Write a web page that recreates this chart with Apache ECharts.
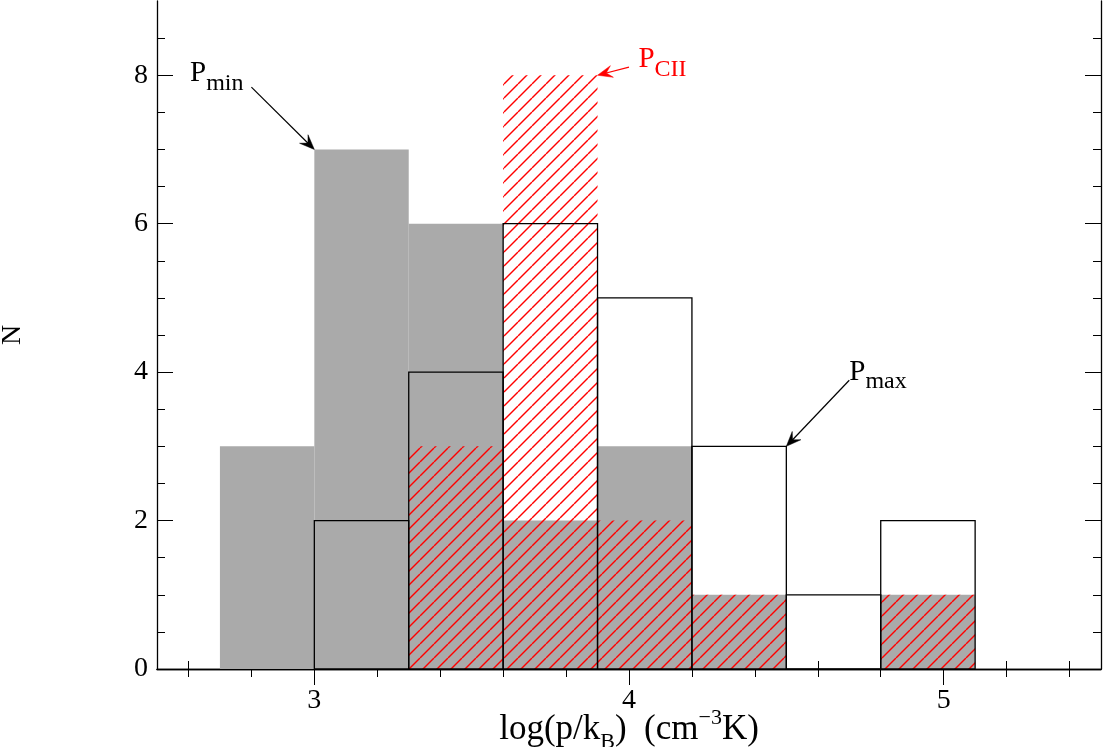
<!DOCTYPE html>
<html><head><meta charset="utf-8">
<script src="https://cdn.jsdelivr.net/npm/echarts@6/dist/echarts.min.js"></script>
<style>html,body{margin:0;padding:0;background:#fff}#c{width:1103px;height:747px}</style>
</head><body><div id="c"></div>
<script>
// ---- data ----
const binLeft = [2.7, 3.0, 3.3, 3.6, 3.9, 4.2, 4.5, 4.8];
const binWidth = 0.3;
const pminCounts = [3, 7, 6, 2, 3, 1, 0, 1];
const pmaxCounts = [0, 2, 4, 6, 5, 3, 1, 2];
const pciiCounts = [0, 0, 3, 8, 2, 1, 0, 1];
const xMajorTicks = [3, 4, 5];
const xMinorTicks = [2.6, 2.8, 3.2, 3.4, 3.6, 3.8, 4.2, 4.4, 4.6, 4.8, 5.2, 5.4];
const yMajorTicks = [0, 2, 4, 6, 8];
const yMinorTicks = [0.5, 1, 1.5, 2.5, 3, 3.5, 4.5, 5, 5.5, 6.5, 7, 7.5, 8.5];
const annMain = ['P', 'P', 'P'];
const annSub = ['min', 'CII', 'max'];
const annColor = ['#000', '#ff0000', '#000'];
const annTextPos = [[2.605, 8.02], [4.03, 8.215], [4.70, 4.0]];
const annTail = [[2.80, 7.84], [4.0, 8.11], [4.70, 3.89]];
const annHead = [[3.0, 7.0], [3.9, 8.0], [4.5, 3.0]];

const FONT = "'Liberation Serif', 'DejaVu Serif', serif";

// hatch pattern
const pc = document.createElement('canvas');
pc.width = 14; pc.height = 14;
const g = pc.getContext('2d');
g.strokeStyle = '#ff0000'; g.lineWidth = 1.4;
for (const k of [-14, 0, 14]) { g.beginPath(); g.moveTo(k, 14); g.lineTo(k + 14, 0); g.stroke(); }
const hatch = { image: pc, repeat: 'repeat' };

function barData(counts) { return binLeft.map((x, i) => [x, x + binWidth, counts[i]]); }

function barRender(kind) {
  return function (params, api) {
    const x0 = api.value(0), x1 = api.value(1), v = api.value(2);
    if (!v) return;
    const p0 = api.coord([x0, v]), p1 = api.coord([x1, 0]);
    const shape = { x: p0[0], y: p0[1], width: p1[0] - p0[0], height: p1[1] - p0[1] };
    let style;
    if (kind === 'gray') style = { fill: '#aaaaaa', stroke: null };
    else if (kind === 'hatch') style = { fill: hatch, stroke: null };
    else style = { fill: 'none', stroke: '#000', lineWidth: 1.3 };
    return { type: 'rect', shape: shape, style: style };
  };
}

const annData = annTail.map((t, i) => [t[0], t[1], annHead[i][0], annHead[i][1], annTextPos[i][0], annTextPos[i][1], i]);

function annRender(params, api) {
  const i = api.value(6);
  const col = annColor[i];
  const t = api.coord([api.value(0), api.value(1)]);
  const h = api.coord([api.value(2), api.value(3)]);
  const tp = api.coord([api.value(4), api.value(5)]);
  const dx = h[0] - t[0], dy = h[1] - t[1];
  const L = Math.hypot(dx, dy), ux = dx / L, uy = dy / L;
  const a = 22 * Math.PI / 180, bl = 16;
  function rot(ang) { return [ux * Math.cos(ang) - uy * Math.sin(ang), ux * Math.sin(ang) + uy * Math.cos(ang)]; }
  const r1 = rot(a), r2 = rot(-a);
  const head = [h, [h[0] - bl * r1[0], h[1] - bl * r1[1]], [h[0] - 9 * ux, h[1] - 9 * uy], [h[0] - bl * r2[0], h[1] - bl * r2[1]]];
  return {
    type: 'group',
    children: [
      { type: 'line', shape: { x1: t[0], y1: t[1], x2: h[0] - 6 * ux, y2: h[1] - 6 * uy }, style: { stroke: col, lineWidth: 1.2 } },
      { type: 'polygon', shape: { points: head }, style: { fill: col, stroke: col, lineWidth: 0.5 } },
      { type: 'text', x: tp[0], y: tp[1], style: {
          text: '{p|' + annMain[i] + '}{s|' + annSub[i] + '}',
          fill: col, align: 'left', verticalAlign: 'middle',
          rich: {
            p: { fontSize: 29, fontFamily: FONT, lineHeight: 44, fill: col, verticalAlign: 'middle' },
            s: { fontSize: 24, fontFamily: FONT, lineHeight: 24, fill: col, verticalAlign: 'bottom' }
          }
        } }
    ]
  };
}

const axLine = { show: true, lineStyle: { color: '#000', width: 1.3 } };
const tickStyle = { color: '#000', width: 1 };

function xAx(grid, pos, major, withLabels) {
  const o = {
    gridIndex: grid, type: 'value', min: 2.5, max: 5.5, position: pos,
    axisLine: major ? axLine : { show: false },
    axisTick: { show: true, inside: true, length: major ? 16 : 8, customValues: major ? xMajorTicks : xMinorTicks, lineStyle: tickStyle },
    axisLabel: withLabels ? { show: true, customValues: xMajorTicks, margin: 18, fontSize: 28, color: '#000', fontFamily: FONT } : { show: false },
    splitLine: { show: false }
  };
  if (withLabels) {
    o.name = '{m|log(p/k}{s|B}{m|)  (cm}{u|\u22123}{m|K)}';
    o.nameLocation = 'middle';
    o.nameGap = 38;
    o.nameMoveOverlap = false;
    o.nameTextStyle = {
      color: '#000', fontFamily: FONT,
      rich: {
        m: { fontSize: 35, fontFamily: FONT, color: '#000', lineHeight: 46, verticalAlign: 'middle' },
        s: { fontSize: 22, fontFamily: FONT, color: '#000', lineHeight: 26, verticalAlign: 'bottom' },
        u: { fontSize: 22, fontFamily: FONT, color: '#000', lineHeight: 18, verticalAlign: 'top' }
      }
    };
  }
  return o;
}
function yAx(grid, pos, major, withLabels) {
  const o = {
    gridIndex: grid, type: 'value', min: 0, max: 9, position: pos,
    axisLine: major ? axLine : { show: false },
    axisTick: { show: true, inside: true, length: major ? 16 : 8, customValues: major ? yMajorTicks : yMinorTicks, lineStyle: tickStyle },
    axisLabel: withLabels ? { show: true, customValues: yMajorTicks, margin: 9, fontSize: 28, color: '#000', fontFamily: FONT } : { show: false },
    splitLine: { show: false }
  };
  if (withLabels) {
    o.name = 'N'; o.nameLocation = 'middle'; o.nameGap = 130;
    o.nameMoveOverlap = false;
    o.nameTextStyle = { fontSize: 28, fontFamily: FONT, color: '#000' };
  }
  return o;
}

const gridRect = { left: 157, right: 2, top: 1, bottom: 78, containLabel: false, outerBoundsMode: 'none' };
const chart = echarts.init(document.getElementById('c'), null, { renderer: 'canvas' });
chart.setOption({
  animation: false,
  backgroundColor: '#fff',
  grid: [Object.assign({}, gridRect), Object.assign({}, gridRect)],
  xAxis: [xAx(0, 'bottom', true, true), xAx(0, 'top', true, false), xAx(1, 'bottom', false, false), xAx(1, 'top', false, false)],
  yAxis: [yAx(0, 'left', true, true), yAx(0, 'right', true, false), yAx(1, 'left', false, false), yAx(1, 'right', false, false)],
  series: [
    { type: 'custom', name: 'Pmin', xAxisIndex: 0, yAxisIndex: 0, data: barData(pminCounts), encode: { x: [0, 1], y: 2 }, renderItem: barRender('gray') },
    { type: 'custom', name: 'PCII', xAxisIndex: 0, yAxisIndex: 0, data: barData(pciiCounts), encode: { x: [0, 1], y: 2 }, renderItem: barRender('hatch') },
    { type: 'custom', name: 'Pmax', xAxisIndex: 0, yAxisIndex: 0, data: barData(pmaxCounts), encode: { x: [0, 1], y: 2 }, renderItem: barRender('outline') },
    { type: 'custom', name: 'ann', xAxisIndex: 0, yAxisIndex: 0, data: annData, encode: { x: [0, 2, 4], y: [1, 3, 5] }, renderItem: annRender, z: 5 }
  ]
});
</script></body></html>
